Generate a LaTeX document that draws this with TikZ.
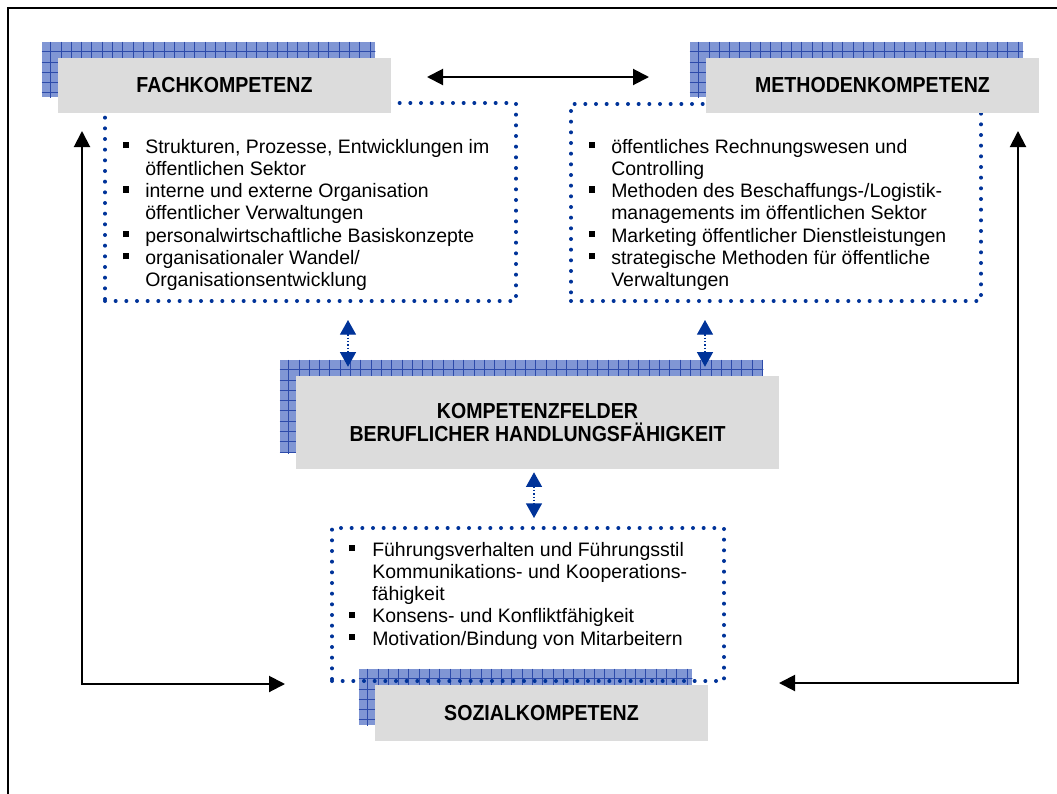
\documentclass[tikz,border=0pt]{standalone}
\usepackage{fontspec}
\setmainfont{Liberation Sans}
\newfontfamily\headfont[FakeStretch=0.9]{Liberation Sans}
\usetikzlibrary{arrows.meta,calc}
\definecolor{dotblue}{RGB}{0,51,153}
\definecolor{hatchfill}{RGB}{128,150,212}
\definecolor{hatchline}{RGB}{45,75,170}
\definecolor{boxgrey}{RGB}{220,220,220}
\pgfdeclarelayer{hatchlayer}
\pgfdeclarelayer{dotlayer}
\pgfsetlayers{hatchlayer,dotlayer,main}
\newcommand{\bul}{\rule[3.75pt]{4.6pt}{4.6pt}}
\newcommand{\shadowof}[1]{%
  \begin{pgfonlayer}{hatchlayer}
  \begin{scope}
    \clip ($(#1.north west)+(-16,-16)$) rectangle ($(#1.south east)+(-16,-16)$);
    \fill[hatchfill] ($(#1.north west)+(-16,-16)$) rectangle ($(#1.south east)+(-16,-16)$);
    \foreach \i in {0,...,48} {\draw[hatchline, line width=0.8pt] ($(#1.north west)+(-7+\i*10.3,-16)$) -- ++(0,110);}
    \foreach \j in {0,...,10} {\draw[hatchline, line width=0.8pt] ($(#1.north west)+(-16,-6+\j*10.3)$) -- ++(520,0);}
  \end{scope}
  \end{pgfonlayer}}
\begin{document}
\begin{tikzpicture}[x=0.75pt, y=-0.75pt,
  greybox/.style={fill=boxgrey, draw=none, inner sep=0, align=center,
    font=\headfont\bfseries\fontsize{16.3}{17.25}\selectfont},
  dotbox/.style={draw=dotblue, line width=3pt, dash pattern=on 0pt off 8pt,
    line cap=round, inner sep=0},
  listtext/.style={inner sep=0, anchor=base west,
    font=\fontsize{14.6}{16.7}\selectfont},
  blackarrow/.style={line width=1.5pt,
    {Triangle[length=12pt,width=12pt]}-{Triangle[length=12pt,width=12pt]}},
  bluearrow/.style={draw=dotblue, line width=1pt, dash pattern=on 1pt off 1.5pt,
    {Triangle[length=11pt,width=12pt]}-{Triangle[length=11pt,width=12pt]}}]
\useasboundingbox (0,0) rectangle (1057,793);
% outer frame
\begin{scope}
  \clip (0,0) rectangle (1057,793);
  \draw[line width=2pt] (8,820) -- (8,8) -- (1080,8);
\end{scope}
% grey heading boxes
\node[greybox, minimum width=249.75pt, minimum height=41.25pt] (fach) at (224.5,85.5) {FACHKOMPETENZ};
\node[greybox, minimum width=249.75pt, minimum height=41.25pt] (meth) at (872.5,85.5) {METHODENKOMPETENZ};
\node[greybox, minimum width=362.25pt, minimum height=69.75pt] (kf) at (537.5,422.5) {KOMPETENZFELDER\\BERUFLICHER HANDLUNGSFÄHIGKEIT};
\node[greybox, minimum width=249.75pt, minimum height=42pt] (sozial) at (541.5,713) {SOZIALKOMPETENZ};
\shadowof{fach}
\shadowof{meth}
\shadowof{kf}
\shadowof{sozial}
% dotted list boxes
\begin{pgfonlayer}{dotlayer}
\node[dotbox, minimum width=308.25pt, minimum height=148.5pt] (fachlist) at (310.5,202) {};
\node[dotbox, minimum width=307.5pt, minimum height=147.75pt] (methlist) at (776,202.5) {};
\node[dotbox, minimum width=294pt, minimum height=114.75pt] (soziallist) at (528,604.5) {};
\end{pgfonlayer}
% list texts
\node[listtext] (fachtext) at (123,153) {\begin{tabular}[t]{@{}p{16.5pt}@{}l@{}}
\bul & Strukturen, Prozesse, Entwicklungen im\\
     & öffentlichen Sektor\\
\bul & interne und externe Organisation\\
     & öffentlicher Verwaltungen\\
\bul & personalwirtschaftliche Basiskonzepte\\
\bul & organisationaler Wandel/\\
     & Organisationsentwicklung
\end{tabular}};
\node[listtext] (methtext) at (589,153) {\begin{tabular}[t]{@{}p{16.5pt}@{}l@{}}
\bul & öffentliches Rechnungswesen und\\
     & Controlling\\
\bul & Methoden des Beschaffungs-/Logistik-\\
     & managements im öffentlichen Sektor\\
\bul & Marketing öffentlicher Dienstleistungen\\
\bul & strategische Methoden für öffentliche\\
     & Verwaltungen
\end{tabular}};
\node[listtext] (sozialtext) at (349,556) {\begin{tabular}[t]{@{}p{17.25pt}@{}l@{}}
\bul & Führungsverhalten und Führungsstil\\
     & Kommunikations- und Kooperations-\\
     & fähigkeit\\
\bul & Konsens- und Konfliktfähigkeit\\
\bul & Motivation/Bindung von Mitarbeitern
\end{tabular}};
% blue dotted double arrows
\coordinate (ax1) at (348,0);
\coordinate (ax2) at (705,0);
\coordinate (ax3) at (534,0);
\draw[bluearrow, shorten <=12.75pt, shorten >=6.75pt] (fachlist.south -| ax1) -- (kf.north -| ax1);
\draw[bluearrow, shorten <=12.75pt, shorten >=6.75pt] (methlist.south -| ax2) -- (kf.north -| ax2);
\draw[bluearrow, shorten <=2.25pt, shorten >=6pt] (kf.south -| ax3) -- (soziallist.north -| ax3);
% black arrows
\coordinate (ta) at (427,77);
\coordinate (tb) at (649,77);
\draw[blackarrow] (ta) -- (tb);
\coordinate (la) at (82,131);
\coordinate (lb) at (285,684);
\draw[blackarrow] (la) |- (lb);
\coordinate (ra) at (1018,131);
\coordinate (rb) at (779,683);
\draw[blackarrow] (ra) |- (rb);
\end{tikzpicture}
\end{document}
